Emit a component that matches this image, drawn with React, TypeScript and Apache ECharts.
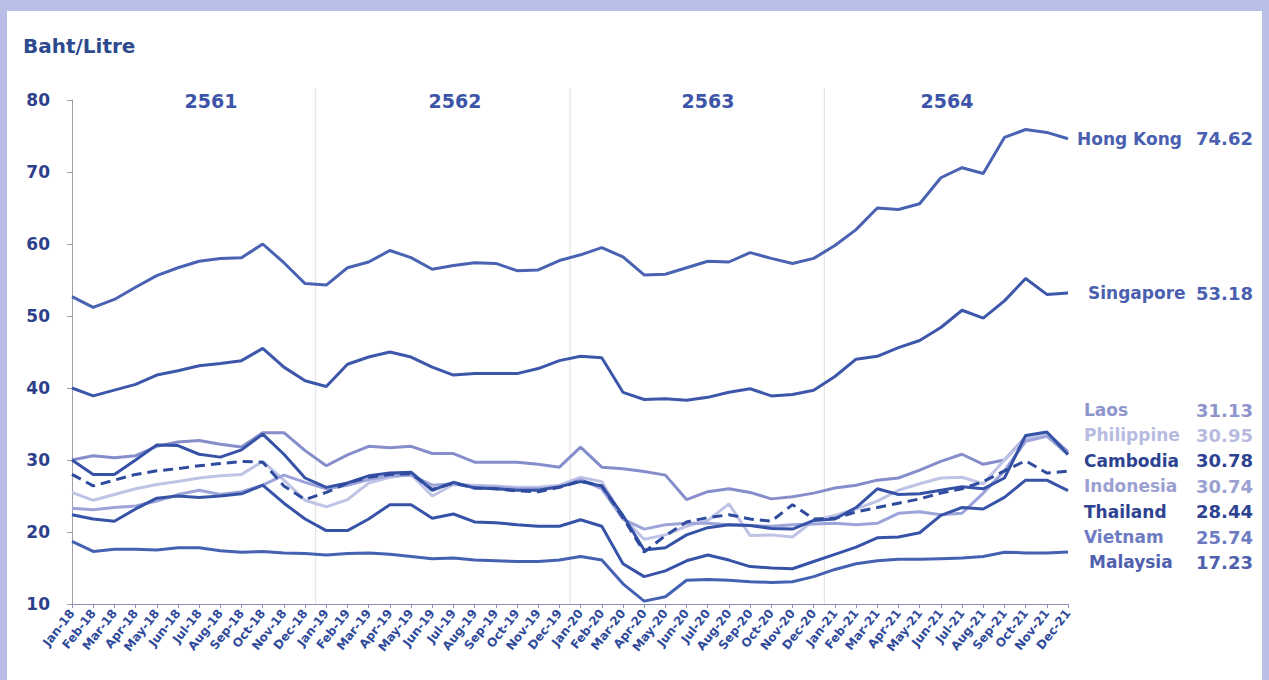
import React, { useEffect, useRef } from "react";
import * as echarts from "echarts";

const months = [
  "Jan-18","Feb-18","Mar-18","Apr-18","May-18","Jun-18","Jul-18","Aug-18","Sep-18","Oct-18","Nov-18","Dec-18",
  "Jan-19","Feb-19","Mar-19","Apr-19","May-19","Jun-19","Jul-19","Aug-19","Sep-19","Oct-19","Nov-19","Dec-19",
  "Jan-20","Feb-20","Mar-20","Apr-20","May-20","Jun-20","Jul-20","Aug-20","Sep-20","Oct-20","Nov-20","Dec-20",
  "Jan-21","Feb-21","Mar-21","Apr-21","May-21","Jun-21","Jul-21","Aug-21","Sep-21","Oct-21","Nov-21","Dec-21",
];

const yearLabels = ["2561", "2562", "2563", "2564"];
const yTicks = [10, 20, 30, 40, 50, 60, 70, 80];

const hongKong = [
  52.7, 51.2, 52.3, 54.0, 55.6, 56.7, 57.6, 58.0, 58.1, 60.0, 57.4, 54.5,
  54.3, 56.7, 57.5, 59.1, 58.1, 56.5, 57.0, 57.4, 57.3, 56.3, 56.4, 57.7,
  58.5, 59.5, 58.2, 55.7, 55.8, 56.7, 57.6, 57.5, 58.8, 58.0, 57.3, 58.0,
  59.8, 62.0, 65.0, 64.8, 65.6, 69.2, 70.6, 69.8, 74.8, 75.9, 75.5, 74.62,
];
const singapore = [
  40.0, 38.9, 39.7, 40.5, 41.8, 42.4, 43.1, 43.4, 43.8, 45.5, 42.9, 41.0,
  40.2, 43.3, 44.3, 45.0, 44.3, 42.9, 41.8, 42.0, 42.0, 42.0, 42.7, 43.8,
  44.4, 44.2, 39.4, 38.4, 38.5, 38.3, 38.7, 39.4, 39.9, 38.9, 39.1, 39.7,
  41.6, 44.0, 44.4, 45.6, 46.6, 48.4, 50.8, 49.7, 52.1, 55.2, 53.0, 53.18,
];
const laos = [
  30.0, 30.6, 30.3, 30.6, 31.9, 32.5, 32.7, 32.2, 31.8, 33.8, 33.8, 31.3,
  29.2, 30.7, 31.9, 31.7, 31.9, 30.9, 30.9, 29.7, 29.7, 29.7, 29.4, 29.0,
  31.8, 29.0, 28.8, 28.4, 27.9, 24.5, 25.6, 26.0, 25.5, 24.6, 24.9, 25.4,
  26.1, 26.5, 27.2, 27.5, 28.6, 29.8, 30.8, 29.4, 30.0, 33.2, 33.8, 31.13,
];
const philippine = [
  25.5, 24.4, 25.2, 26.0, 26.6, 27.0, 27.5, 27.8, 28.0, 29.8, 27.2, 24.4,
  23.5, 24.5, 26.8, 27.6, 28.0, 25.0, 26.6, 26.5, 26.4, 26.2, 26.2, 26.5,
  27.6, 27.0, 22.0, 19.0, 19.6, 20.8, 21.6, 23.9, 19.5, 19.6, 19.3, 21.6,
  22.3, 23.2, 24.3, 25.8, 26.7, 27.5, 27.6, 26.7, 30.0, 33.0, 33.6, 30.95,
];
const cambodia = [
  30.0, 28.0, 28.0, 30.0, 32.1, 32.0, 30.8, 30.4, 31.4, 33.6, 30.8, 27.5,
  26.2, 26.8, 27.8, 28.2, 28.3, 25.8, 26.9, 26.1, 26.0, 25.8, 25.8, 26.3,
  27.0, 26.4, 22.3, 17.5, 17.8, 19.6, 20.6, 21.0, 20.9, 20.5, 20.4, 21.6,
  21.8, 23.4, 26.0, 25.2, 25.3, 25.8, 26.3, 26.0, 27.5, 33.4, 33.9, 30.78,
];
const indonesia = [
  23.3, 23.1, 23.4, 23.6, 24.3, 25.2, 25.8, 25.2, 25.6, 26.5, 27.9, 26.9,
  26.0, 26.5, 27.3, 27.8, 27.9, 26.5, 26.7, 26.3, 26.2, 26.0, 26.0, 26.2,
  27.3, 26.0, 21.8, 20.4, 21.0, 21.2, 21.2, 21.0, 20.9, 20.8, 21.0, 21.1,
  21.2, 21.0, 21.2, 22.6, 22.8, 22.4, 22.6, 25.4, 28.5, 32.6, 33.3, 30.74,
];
const thailand = [
  28.0, 26.4, 27.2, 28.0, 28.5, 28.8, 29.2, 29.5, 29.8, 29.7, 26.4, 24.5,
  25.5, 26.8, 27.6, 28.0, 28.1, 25.9, 26.8, 26.1, 26.0, 25.7, 25.6, 26.2,
  27.1, 26.4, 22.0, 17.2, 19.5, 21.4, 22.0, 22.4, 21.8, 21.5, 23.8, 21.8,
  21.9, 22.8, 23.4, 24.0, 24.6, 25.4, 26.0, 27.0, 28.5, 29.9, 28.2, 28.44,
];
const vietnam = [
  22.4, 21.8, 21.5, 23.2, 24.7, 25.0, 24.8, 25.0, 25.3, 26.5, 24.0, 21.8,
  20.2, 20.2, 21.8, 23.8, 23.8, 21.9, 22.5, 21.4, 21.3, 21.0, 20.8, 20.8,
  21.7, 20.8, 15.6, 13.8, 14.6, 16.0, 16.8, 16.1, 15.2, 15.0, 14.9, 15.9,
  16.9, 17.9, 19.2, 19.3, 19.9, 22.3, 23.4, 23.2, 24.8, 27.2, 27.2, 25.74,
];
const malaysia = [
  18.7, 17.3, 17.6, 17.6, 17.5, 17.8, 17.8, 17.4, 17.2, 17.3, 17.1, 17.0,
  16.8, 17.0, 17.1, 16.9, 16.6, 16.3, 16.4, 16.1, 16.0, 15.9, 15.9, 16.1,
  16.6, 16.1, 12.8, 10.4, 11.0, 13.3, 13.4, 13.3, 13.1, 13.0, 13.1, 13.8,
  14.8, 15.6, 16.0, 16.2, 16.2, 16.3, 16.4, 16.6, 17.2, 17.1, 17.1, 17.23,
];

const FONT = "'DejaVu Sans', Verdana, sans-serif";

// styles (kept apart from data)
const seriesList = [
  { name: "Hong Kong", data: hongKong, line: "#4a62b2", text: "#4a5fb0", dashed: false },
  { name: "Singapore", data: singapore, line: "#3c56a9", text: "#4a5fb0", dashed: false },
  { name: "Laos", data: laos, line: "#868dcb", text: "#8e95cc", dashed: false },
  { name: "Philippine", data: philippine, line: "#bfc3e6", text: "#b7bbdf", dashed: false },
  { name: "Indonesia", data: indonesia, line: "#9ca4d9", text: "#9aa0d1", dashed: false },
  { name: "Cambodia", data: cambodia, line: "#3552a6", text: "#2d4391", dashed: false },
  { name: "Vietnam", data: vietnam, line: "#3753a8", text: "#6d7bc2", dashed: false },
  { name: "Malaysia", data: malaysia, line: "#4561b2", text: "#4e60ae", dashed: false },
  { name: "Thailand", data: thailand, line: "#2e4b9d", text: "#2d4391", dashed: true },
];
const listOrder = ["Laos", "Philippine", "Cambodia", "Indonesia", "Thailand", "Vietnam", "Malaysia"];

export default function App() {
  const ref = useRef<HTMLDivElement>(null);

  useEffect(() => {
    document.body.style.margin = "0";
    const el = ref.current!;
    const chart = echarts.init(el, null, { renderer: "svg" });

    const W = 1255, H = 669;
    const gl = 65, gr = 194, gt = 89, gb = 76;
    const gw = W - gl - gr;
    const gh = H - gt - gb;
    const yMin = 10, yMax = 80;
    const px = (i: number) => gl + (i * gw) / (months.length - 1);
    const py = (v: number) => gt + ((yMax - v) / (yMax - yMin)) * gh;

    const graphics: any[] = [];
    graphics.push({
      type: "text",
      x: 16, y: 35,
      style: { text: "Baht/Litre", fill: "#2d4a8f", font: `bold 20px ${FONT}`, textVerticalAlign: "middle" },
    });
    // year separators
    [11.5, 23.5, 35.5].forEach((i) => {
      graphics.push({
        type: "line",
        shape: { x1: px(i), y1: 77, x2: px(i), y2: gt + gh },
        style: { stroke: "#dedede", lineWidth: 1 },
        z: 0,
      });
    });
    const yearX = [204, 448, 701, 940];
    yearLabels.forEach((t, k) => {
      graphics.push({
        type: "text",
        x: yearX[k], y: 90,
        style: { text: t, fill: "#3d55a8", font: `bold 19px ${FONT}`, textAlign: "center", textVerticalAlign: "middle" },
      });
    });
    const fmt = (v: number) => v.toFixed(2);
    const byName: any = {};
    seriesList.forEach((s) => (byName[s.name] = s));
    const NAME_FONT = `bold 17px ${FONT}`;
    const VAL_FONT = `bold 18px ${FONT}`;
    // end labels for Hong Kong & Singapore
    [["Hong Kong", 1070], ["Singapore", 1081]].forEach(([n, x]: any) => {
      const s = byName[n];
      const v = s.data[s.data.length - 1];
      graphics.push({
        type: "text", x, y: py(v),
        style: { text: n, fill: s.text, font: NAME_FONT, textVerticalAlign: "middle" },
      });
      graphics.push({
        type: "text", x: 1246, y: py(v),
        style: { text: fmt(v), fill: s.text, font: VAL_FONT, textAlign: "right", textVerticalAlign: "middle" },
      });
    });
    listOrder.forEach((n, k) => {
      const s = byName[n];
      const v = s.data[s.data.length - 1];
      const y = 399 + k * 25.4;
      graphics.push({
        type: "text", x: n === "Malaysia" ? 1082 : 1077, y,
        style: { text: n, fill: s.text, font: NAME_FONT, textVerticalAlign: "middle" },
      });
      graphics.push({
        type: "text", x: 1246, y,
        style: { text: fmt(v), fill: s.text, font: VAL_FONT, textAlign: "right", textVerticalAlign: "middle" },
      });
    });

    const option: any = {
      animation: false,
      backgroundColor: "#ffffff",
      grid: { left: gl, right: gr, top: gt, bottom: gb, containLabel: false },
      xAxis: {
        type: "category",
        data: months,
        boundaryGap: false,
        axisLine: { lineStyle: { color: "#8a90b8", width: 1 } },
        axisTick: { show: true, length: 4, lineStyle: { color: "#8a90b8" }, interval: 0 },
        axisLabel: {
          interval: 0, rotate: 52, margin: 7,
          color: "#2f4a9a", fontWeight: "bold", fontSize: 12, fontFamily: FONT,
        },
        splitLine: { show: false },
      },
      yAxis: {
        type: "value",
        min: yTicks[0], max: yTicks[yTicks.length - 1], interval: 10,
        axisLine: { show: true, lineStyle: { color: "#a0a0a0", width: 1 } },
        axisTick: { show: true, length: 5, lineStyle: { color: "#a0a0a0" } },
        axisLabel: { margin: 22, color: "#2d3f8a", fontWeight: "bold", fontSize: 17, fontFamily: FONT },
        splitLine: { show: false },
      },
      series: seriesList.map((s) => ({
        name: s.name,
        type: "line",
        data: s.data,
        showSymbol: false,
        symbol: "none",
        smooth: false,
        lineStyle: { color: s.line, width: 3, type: s.dashed ? [10, 6] : "solid" },
        z: s.dashed ? 4 : 3,
      })),
      graphic: graphics,
    };
    chart.setOption(option);
    return () => chart.dispose();
  }, []);

  return (
    <div style={{ position: "relative", width: 1269, height: 680, background: "#b9bee6", overflow: "hidden" }}>
      <div ref={ref} style={{ position: "absolute", left: 7, top: 11, width: 1255, height: 669, background: "#fff" }} />
    </div>
  );
}
